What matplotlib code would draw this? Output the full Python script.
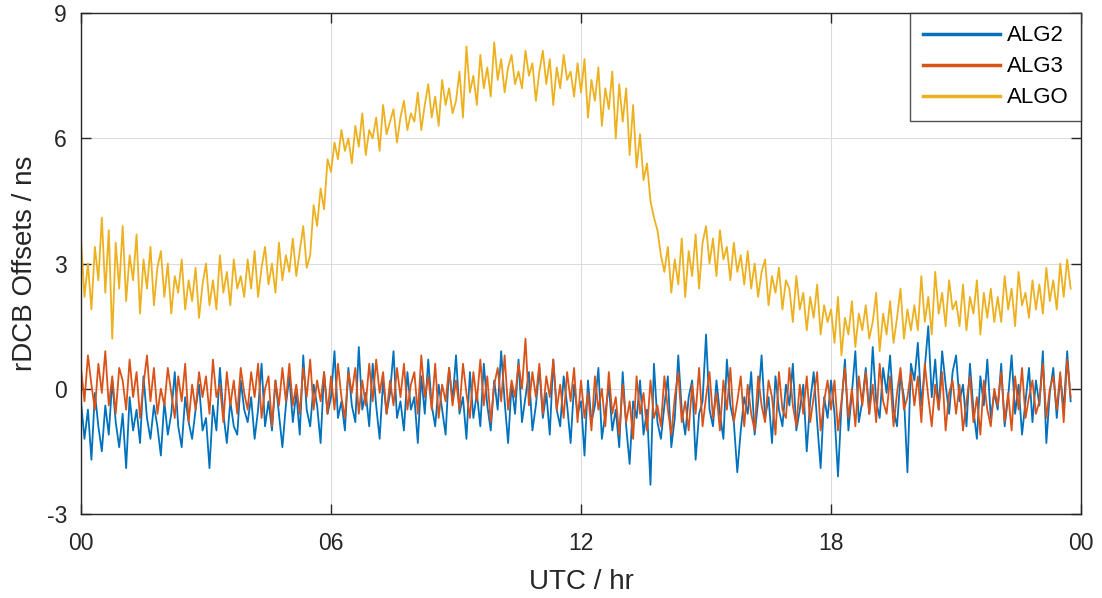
import numpy as np
import matplotlib.pyplot as plt

# rDCB offsets (ns), one reading every 5 minutes (12 per hour, one row per hour)
alg2 = [
    -0.3, -1.2, -0.5, -1.7, -0.1, -0.9, -1.5, -0.4, -1.1, 0.2, -0.8, -1.4,
    -0.6, -1.9, -0.2, -1.0, -0.5, -1.3, 0.3, -0.7, -1.2, -0.4, -0.9, -1.6,
    -0.3, -1.1, -0.6, 0.4, -0.9, -1.4, -0.2, -0.8, -1.2, -0.5, 0.1, -1.0,
    -0.7, -1.9, -0.4, -1.0, 0.5, -0.6, -1.3, -0.3, -0.9, -1.1, 0.2, -0.5,
    -0.8, -0.2, -1.2, -0.5, 0.6, -0.9, -0.3, -1.0, 0.2, -0.6, -1.4, -0.4,
    0.3, -0.8, -0.1, -1.1, 0.8, -0.5, -0.9, 0.1, -0.4, -1.3, 0.4, -0.6,
    -0.2, 0.9, -0.7, -0.3, -1.0, 0.5, -0.4, -0.8, 1.0, -0.5, -0.1, -0.9,
    0.6, -0.4, -1.2, 0.2, -0.6, -0.1, 0.9, -0.7, -0.3, -1.0, 0.4, -0.5,
    -0.2, -1.3, 0.3, -0.6, 0.7, -0.4, -0.9, 0.1, -0.5, -1.1, 0.5, -0.3,
    0.8, -0.6, -0.2, -1.2, 0.4, -0.7, -0.1, -0.9, 0.6, -0.4, -1.0, 0.2,
    -0.5, 0.9, -0.3, -1.3, 0.1, -0.6, 0.7, -0.8, -0.2, 0.4, -1.0, -0.4,
    0.5, -0.7, -0.1, -1.1, 0.7, -0.5, -0.9, 0.3, -0.4, -1.3, 0.1, -0.6,
    -0.3, -1.6, 0.2, -0.8, -0.4, 0.5, -1.2, -0.6, 0.1, -1.0, -0.5, -1.4,
    0.4, -0.9, -1.8, -0.3, -0.7, 0.2, -1.1, -0.5, -2.3, 0.6, -0.8, -1.2,
    -0.4, 0.3, -1.4, -0.7, 0.8, -0.5, -1.1, -0.2, 0.2, -1.7, -0.6, -0.3,
    1.3, -0.5, -0.9, 0.2, -0.6, -1.2, 0.7, -0.4, -0.8, -2.0, -1.0, -0.2,
    -0.6, 0.4, -1.1, -0.3, 0.8, -0.7, -0.2, -1.3, 0.3, -0.5, -0.9, 0.1,
    -0.4, 0.6, -1.0, -0.5, 0.1, -1.5, -0.3, 0.4, -0.8, -1.9, -0.2, -0.7,
    0.2, -0.6, -2.1, -0.4, 0.7, -1.0, -0.1, 0.9, -0.8, -0.3, 0.5, -0.6,
    1.0, -0.3, -0.7, 0.5, -0.1, 0.8, -0.5, -0.9, 0.3, -0.2, -2.0, 0.6,
    0.2, 1.1, -0.4, 0.5, 1.5, -0.2, 0.7, -0.5, 0.9, 0.1, -0.6, 0.4,
    0.8, -0.3, 0.1, -0.9, 0.6, -0.5, -1.2, 0.3, -0.4, 0.7, -0.7, -0.1,
    -0.5, 0.6, -0.9, -0.2, 0.8, -0.6, 0.1, -1.1, -0.3, 0.5, -0.8, 0.2,
    -0.4, 0.9, -1.3, -0.1, 0.5, -0.7, 0.3, -0.5, 0.9, -0.3,
]

alg3 = [
    0.5, -0.3, 0.8, 0.1, -0.5, 0.6, -0.1, 0.9, -0.4, 0.3, -0.6, 0.5,
    0.2, -0.5, 0.7, -0.2, 0.4, -0.7, 0.1, 0.8, -0.3, 0.5, -0.6, 0.0,
    -0.4, 0.5, -0.1, -0.7, 0.3, -0.3, 0.6, -0.8, 0.1, -0.5, 0.4, -0.2,
    0.3, -0.6, 0.7, -0.2, 0.1, -0.8, 0.4, -0.4, 0.2, -0.6, 0.5, -0.1,
    -0.5, 0.4, -0.2, 0.6, -0.7, 0.0, 0.3, -0.9, 0.2, -0.4, 0.5, -0.3,
    0.6, -0.4, 0.1, -0.6, 0.5, -0.2, 0.7, -0.5, 0.2, -0.3, 0.4, -0.6,
    0.3, -0.5, 0.6, -0.2, -0.7, 0.4, -0.1, 0.5, -0.6, 0.2, -0.4, 0.6,
    -0.3, 0.7, -0.1, 0.4, -0.6, 0.2, -0.4, 0.5, -0.2, 0.6, -0.5, 0.1,
    0.4, -0.6, 0.8, -0.2, 0.3, -0.5, 0.6, -0.7, 0.1, -0.3, 0.5, -0.4,
    0.2, -0.5, 0.6, -0.1, -0.7, 0.4, -0.3, 0.7, -0.4, 0.3, -0.8, 0.1,
    0.5, -0.3, 0.8, -0.5, 0.2, -0.2, 0.6, 0.0, 1.2, -0.4, 0.4, -0.2,
    0.6, -0.6, 0.3, -0.2, 0.7, -0.5, 0.1, -0.7, 0.4, -0.3, 0.5, -0.8,
    0.2, -0.7, -0.1, -1.0, 0.3, -0.5, 0.0, -0.9, 0.4, -0.6, -0.2, -1.1,
    0.1, -0.8, -0.3, -1.2, 0.3, -0.6, -0.1, -1.0, 0.2, -0.7, -0.4, -0.9,
    0.3, -0.5, -1.1, -0.2, 0.4, -0.8, -0.3, -1.0, 0.1, -0.6, 0.5, -0.9,
    -0.2, 0.4, -0.7, -0.1, -1.0, 0.2, -0.5, 0.5, -0.8, -0.3, 0.3, -0.9,
    0.1, -0.6, -1.0, 0.3, -0.4, -0.8, 0.2, -0.2, -1.1, 0.4, -0.5, -0.7,
    0.5, -0.4, -0.9, 0.1, -0.6, 0.3, -0.8, -0.2, 0.4, -1.0, -0.3, 0.2,
    -0.5, 0.2, -1.0, -0.3, 0.5, -0.7, 0.0, -0.9, 0.3, -0.4, 0.4, -0.6,
    0.1, -0.8, 0.6, -0.3, -0.6, 0.3, -0.9, -0.1, 0.5, -0.5, -0.2, 0.4,
    -0.4, 0.3, -0.8, 0.6, -0.2, -0.9, 0.1, -0.5, 0.4, -1.0, -0.1, 0.2,
    -0.6, 0.1, -1.0, -0.3, 0.3, -0.8, -0.2, -1.1, 0.2, -0.5, -0.9, 0.0,
    -0.4, 0.4, -0.8, -0.1, -1.0, 0.3, -0.5, 0.5, -0.7, -0.2, 0.2, -0.6,
    -0.3, 0.6, -0.7, 0.0, 0.3, -0.5, 0.4, -0.8, 0.7, -0.2,
]

algo = [
    3.6, 2.2, 3.0, 1.9, 3.4, 2.6, 4.1, 2.3, 3.8, 1.2, 3.5, 2.4,
    3.9, 2.1, 3.2, 2.6, 3.7, 1.8, 3.1, 2.4, 3.4, 2.0, 2.9, 3.3,
    2.2, 3.0, 1.8, 2.7, 2.3, 3.1, 1.9, 2.6, 2.1, 2.9, 1.7, 2.5,
    3.0, 2.0, 2.6, 1.9, 3.2, 2.3, 2.8, 2.0, 3.1, 2.4, 2.7, 2.2,
    3.1, 2.4, 3.3, 2.2, 2.9, 3.4, 2.5, 3.0, 2.3, 3.5, 2.6, 3.2,
    2.8, 3.6, 2.7, 3.3, 3.9, 2.9, 3.2, 4.4, 3.9, 4.8, 4.3, 5.5,
    5.2, 5.9, 5.5, 6.2, 5.7, 6.0, 5.4, 6.3, 5.8, 6.6, 5.6, 6.2,
    6.0, 6.5, 5.7, 6.8, 6.1, 6.4, 6.7, 5.9, 6.5, 6.9, 6.2, 6.6,
    6.4, 7.1, 6.2, 6.8, 7.3, 6.5, 7.0, 6.3, 7.4, 6.8, 7.2, 6.6,
    6.9, 7.6, 6.5, 8.2, 7.1, 7.5, 6.8, 8.0, 7.2, 7.7, 7.0, 8.3,
    7.4, 7.9, 7.1, 7.7, 8.0, 7.3, 7.6, 7.2, 8.1, 7.5, 7.8, 6.9,
    7.6, 8.1, 7.3, 7.9, 6.8, 7.7, 7.2, 8.0, 7.4, 7.6, 7.0, 7.8,
    7.1, 7.9, 6.5, 7.4, 6.9, 7.7, 6.3, 7.2, 6.7, 7.6, 6.0, 7.3,
    6.4, 7.2, 5.6, 6.8, 5.3, 6.1, 5.0, 5.4, 4.5, 4.1, 3.8, 3.2,
    2.8, 3.4, 2.3, 3.1, 2.5, 3.6, 2.2, 3.3, 2.7, 3.7, 2.4, 3.5,
    3.9, 3.0, 3.6, 2.7, 3.8, 3.1, 3.4, 2.6, 3.5, 2.8, 3.2, 2.5,
    3.3, 2.4, 3.0, 2.2, 2.8, 3.1, 2.0, 2.7, 2.3, 2.9, 1.9, 2.6,
    2.4, 1.6, 2.7, 1.9, 2.3, 1.4, 2.2, 1.7, 2.5, 1.3, 2.0, 1.6,
    1.9, 1.1, 2.2, 0.8, 1.7, 1.3, 2.1, 1.0, 1.8, 1.4, 2.0, 1.2,
    1.6, 2.3, 0.9, 1.8, 1.3, 2.1, 1.1, 1.7, 2.4, 1.2, 1.9, 1.4,
    2.0, 1.4, 2.7, 1.6, 2.2, 1.3, 2.8, 1.8, 2.3, 1.5, 2.6, 1.9,
    2.1, 1.5, 2.5, 1.4, 2.2, 1.8, 2.6, 1.3, 2.3, 1.7, 2.4, 1.6,
    2.2, 1.6, 2.7, 1.9, 2.4, 1.5, 2.8, 2.0, 2.3, 1.7, 2.6, 1.9,
    2.5, 1.8, 2.9, 2.1, 2.6, 1.9, 3.0, 2.2, 3.1, 2.4,
]

# UTC hours of each reading
hours = np.arange(len(algo)) / 12.0

xticks = [0, 6, 12, 18, 24]
xticklabels = ['00', '06', '12', '18', '00']
yticks = [-3, 0, 3, 6, 9]

plt.rcParams['font.family'] = ['Liberation Sans', 'DejaVu Sans']
plt.rcParams['axes.unicode_minus'] = False

fig = plt.figure(figsize=(11.02, 5.98), dpi=100)
ax = fig.add_axes([0.0735, 0.1405, 0.9075, 0.8375])

ax.plot(hours, alg2, color='#0072BD', lw=1.3, label='ALG2')
ax.plot(hours, alg3, color='#D95319', lw=1.3, label='ALG3')
ax.plot(hours, algo, color='#EDB120', lw=1.3, label='ALGO')

ax.set_xlim(0, 24)
ax.set_ylim(-3, 9)
ax.set_xticks(xticks)
ax.set_xticklabels(xticklabels)
ax.set_yticks(yticks)
ax.grid(True, color='#dcdcdc', lw=0.8)
ax.set_axisbelow(True)
ax.tick_params(direction='in', length=7, width=1, top=True, right=True,
               labelsize=16.5, colors='#262626')
ax.tick_params(axis='x', pad=13)
ax.tick_params(axis='y', pad=10)
for sp in ax.spines.values():
    sp.set_color('#262626')
    sp.set_linewidth(1.0)

ax.set_xlabel('UTC / hr', fontsize=20, color='#262626', labelpad=10)
ax.set_ylabel('rDCB Offsets / ns', fontsize=20, color='#262626', labelpad=6)

leg = ax.legend(loc='upper right', fontsize=16, frameon=True, fancybox=False,
                handlelength=3.5, handletextpad=0.3, borderaxespad=0,
                borderpad=0.55, labelspacing=0.45)
leg.get_frame().set_edgecolor('#262626')
leg.get_frame().set_linewidth(1.0)
for line in leg.get_lines():
    line.set_linewidth(2.5)

fig.savefig('out.png', dpi=100)
